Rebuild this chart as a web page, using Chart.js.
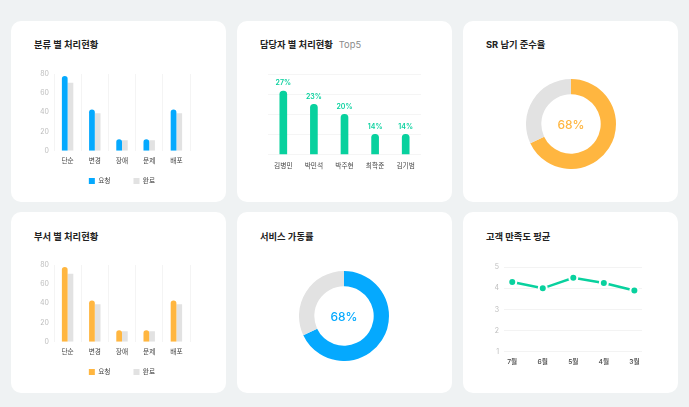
<!DOCTYPE html>
<html><head><meta charset="utf-8">
<script src="https://cdn.jsdelivr.net/npm/chart.js@4/dist/chart.umd.min.js"></script>
<style>
html,body{margin:0;padding:0;}
body{width:689px;height:407px;background:#eff2f3;position:relative;overflow:hidden;font-family:Inter,"Noto Sans CJK KR",sans-serif;}
.card{position:absolute;background:#fff;border-radius:10px;width:215px;height:181px;}
.title{position:absolute;font-size:9.3px;font-weight:700;color:#222;line-height:12px;white-space:nowrap;}
.sub{font-weight:400;color:#8a8a8a;margin-left:6px;}
canvas{position:absolute;}
</style></head>
<body>
<div class="card" style="left:11px;top:21px"></div>
<div class="card" style="left:237px;top:21px"></div>
<div class="card" style="left:463px;top:21px"></div>
<div class="card" style="left:11px;top:212px"></div>
<div class="card" style="left:237px;top:212px"></div>
<div class="card" style="left:463px;top:212px"></div>

<div class="title" style="left:34px;top:39px">분류 별 처리현황</div>
<div class="title" style="left:260px;top:39px">담당자 별 처리현황<span class="sub">Top5</span></div>
<div class="title" style="left:486px;top:39px">SR 납기 준수율</div>
<div class="title" style="left:34px;top:231px">부서 별 처리현황</div>
<div class="title" style="left:260px;top:231px">서비스 가동률</div>
<div class="title" style="left:486px;top:231px">고객 만족도 평균</div>

<canvas id="c1" width="190" height="135" style="left:28px;top:64px"></canvas>
<canvas id="c2" width="170" height="115" style="left:262px;top:66px"></canvas>
<canvas id="c3" width="90" height="90" style="left:526px;top:79px"></canvas>
<canvas id="c4" width="190" height="135" style="left:28px;top:255px"></canvas>
<canvas id="c5" width="90" height="90" style="left:299px;top:271px"></canvas>
<canvas id="c6" width="170" height="125" style="left:483px;top:258px"></canvas>

<script>
// ---- data ----
const seriesNames = ['요청', '완료'];
const typeCategories = ['단순', '변경', '장애', '문제', '배포'];
const typeRequested = [78, 43, 12, 12, 43];
const typeCompleted = [71, 39, 11, 11, 39];
const deptCategories = ['단순', '변경', '장애', '문제', '배포'];
const deptRequested = [78, 43, 12, 12, 43];
const deptCompleted = [71, 39, 11, 11, 39];
const countTicks = [0, 20, 40, 60, 80];

const assigneeNames = ['김병민', '박민석', '박주현', '최학준', '김기범'];
const assigneeShares = [27, 23, 20, 14, 14];
const shareTicks = [8, 14, 20, 26, 32];

const srOnTimeRate = 68;
const serviceUptimeRate = 68;

const satisfactionMonths = ['7월', '6월', '5월', '4월', '3월'];
const satisfactionScores = [4.3, 4.0, 4.5, 4.25, 3.9];
const scoreTicks = [1, 2, 3, 4, 5];

// ---- style ----
const BLUE = '#05a9fe', ORANGE = '#ffb640', GRAY = '#e2e2e2', GREEN = '#08d19e';
const FONT = "Inter, 'Noto Sans CJK KR', sans-serif";
Chart.defaults.font.family = FONT;
Chart.defaults.animation = false;
Chart.defaults.plugins.tooltip.enabled = false;

const legendPlace = {
  id: 'legendPlace',
  afterLayout(chart, args, opts) {
    const lg = chart.legend, a = chart.chartArea;
    if (!lg) return;
    lg.left = a.left; lg.right = a.right; lg.width = a.right - a.left;
    lg.top = a.bottom + opts.offset; lg.height = 30; lg.bottom = lg.top + 30;
  }
};
const centerText = {
  id: 'centerText',
  afterDatasetsDraw(chart, args, opts) {
    const {ctx, chartArea: a} = chart;
    ctx.save();
    ctx.font = opts.font; ctx.fillStyle = opts.color;
    ctx.textAlign = 'center'; ctx.textBaseline = 'middle';
    ctx.fillText(opts.text, (a.left + a.right) / 2, (a.top + a.bottom) / 2 + 1);
    ctx.restore();
  }
};
const barLabels = {
  id: 'barLabels',
  afterDatasetsDraw(chart, args, opts) {
    const {ctx} = chart;
    const meta = chart.getDatasetMeta(0), ds = chart.data.datasets[0];
    ctx.save();
    ctx.font = opts.font; ctx.fillStyle = opts.color;
    ctx.textAlign = 'center'; ctx.textBaseline = 'middle';
    meta.data.forEach((bar, i) => ctx.fillText(ds.data[i] + '%', bar.x, bar.y - opts.gap));
    ctx.restore();
  }
};

function groupedBar(id, cats, req, done, color) {
  new Chart(document.getElementById(id), {
    type: 'bar',
    data: {
      labels: cats,
      datasets: [
        {label: seriesNames[0], data: req, backgroundColor: color, borderWidth: 0, borderRadius: 3,
         categoryPercentage: 0.42, barPercentage: 1},
        {label: seriesNames[1], data: done, backgroundColor: GRAY, borderWidth: 0, borderRadius: 0,
         categoryPercentage: 0.42, barPercentage: 1}
      ]
    },
    plugins: [legendPlace],
    options: {
      responsive: false,
      layout: {padding: {top: 10, right: 28, bottom: 27.3, left: 0}},
      scales: {
        x: {
          grid: {display: true, color: '#f4f4f4', drawTicks: false},
          border: {display: false},
          ticks: {color: '#444', font: {size: 6.7}, padding: 6.7},
          afterFit(s) { s.height = 20; }
        },
        y: {
          min: countTicks[0], max: countTicks[countTicks.length - 1],
          grid: {display: false, drawTicks: false},
          border: {display: false},
          ticks: {stepSize: countTicks[1] - countTicks[0], color: '#bdbdbd', font: {size: 7}, padding: 5},
          afterFit(s) { s.width = 26; }
        }
      },
      plugins: {
        legend: {
          position: 'bottom', maxHeight: 1,
          labels: {boxWidth: 6, boxHeight: 6, padding: 23, color: '#444', font: {size: 6.7}}
        },
        legendPlace: {offset: 4}
      }
    }
  });
}
groupedBar('c1', typeCategories, typeRequested, typeCompleted, BLUE);
groupedBar('c4', deptCategories, deptRequested, deptCompleted, ORANGE);

new Chart(document.getElementById('c2'), {
  type: 'bar',
  data: {labels: assigneeNames, datasets: [{data: assigneeShares, backgroundColor: GREEN, borderWidth: 0,
         borderRadius: 3.5, barThickness: 7}]},
  plugins: [barLabels],
  options: {
    responsive: false,
    layout: {padding: {top: 8.3, right: 11, bottom: 6.7, left: 6}},
    scales: {
      x: {grid: {display: false, drawTicks: false}, border: {display: false},
          ticks: {color: '#444', font: {size: 6.7}, padding: 7.8},
          afterFit(s) { s.height = 20; }},
      y: {min: shareTicks[0], max: shareTicks[shareTicks.length - 1],
          ticks: {display: false, stepSize: shareTicks[1] - shareTicks[0]},
          grid: {color: '#f5f5f5', drawTicks: false}, border: {display: false}}
    },
    plugins: {legend: {display: false},
      barLabels: {font: "600 7px " + FONT, color: GREEN, gap: 7.7}}
  }
});

function donut(id, rate, color) {
  new Chart(document.getElementById(id), {
    type: 'doughnut',
    data: {datasets: [{data: [rate, 100 - rate], backgroundColor: [color, GRAY], borderWidth: 0}]},
    plugins: [centerText],
    options: {
      responsive: false, cutout: '66%',
      plugins: {legend: {display: false},
        centerText: {text: rate + '%', color: color, font: "500 12px " + FONT}}
    }
  });
}
donut('c3', srOnTimeRate, ORANGE);
donut('c5', serviceUptimeRate, BLUE);

new Chart(document.getElementById('c6'), {
  type: 'line',
  data: {datasets: [{data: satisfactionScores.map((v, i) => ({x: i, y: v})),
    borderColor: GREEN, borderWidth: 2.5, pointBackgroundColor: GREEN,
    pointBorderColor: '#fff', pointBorderWidth: 2, pointRadius: 4, tension: 0}]},
  options: {
    responsive: false,
    layout: {padding: {top: 7.7, right: 11, bottom: 11.3, left: 0}},
    scales: {
      x: {type: 'linear', min: -0.27, max: 4.25,
          grid: {display: false, drawTicks: false}, border: {display: false},
          ticks: {stepSize: 1, includeBounds: false, color: '#444', font: {size: 6.7, weight: '500'}, padding: 6.7,
                  callback: v => satisfactionMonths[v]},
          afterFit(s) { s.height = 20; }},
      y: {min: scoreTicks[0], max: scoreTicks[scoreTicks.length - 1],
          grid: {color: '#f3f3f3', drawTicks: false}, border: {display: false},
          ticks: {stepSize: 1, color: '#bdbdbd', font: {size: 7}, padding: 5},
          afterFit(s) { s.width = 21; }}
    },
    plugins: {legend: {display: false}}
  }
});
</script>
</body></html>
